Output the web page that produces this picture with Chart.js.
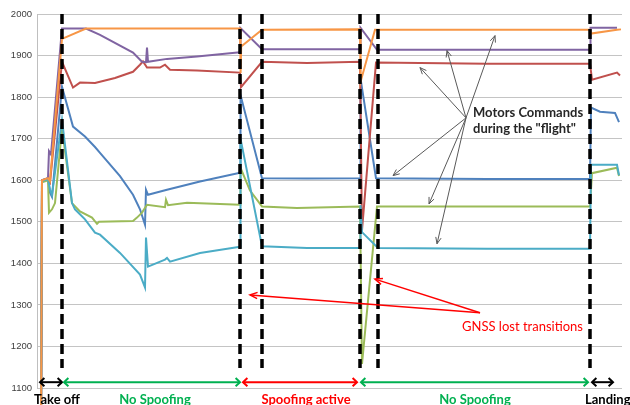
<!DOCTYPE html>
<html>
<head>
<meta charset="utf-8">
<script src="https://cdn.jsdelivr.net/npm/chart.js@4"></script>
<style>
  html, body { margin: 0; padding: 0; background: #ffffff; }
  #wrap { width: 630px; height: 405px; position: relative; }
</style>
</head>
<body>
<div id="wrap"><canvas id="c" width="630" height="405"></canvas></div>
<script>
// ---- Data (time in samples, motor command values) ----
const yTicks = [1100, 1200, 1300, 1400, 1500, 1600, 1700, 1800, 1900, 2000];

const motor1 = [[4,1000],[5,1600],[11,1605],[13,1570],[15,1560],[25,1825],[36,1729],[48,1705],[58,1680],[63,1666],[83,1610],[96,1565],[103,1530],[108,1493],[109,1577],[111,1565],[130,1577],[163,1597],[203,1618],[203.5,1805],[225,1605],[270,1604],[323,1605],[323.5,1845],[339,1605],[450,1603],[553,1603],[554,1775],[563,1765],[578,1762],[582,1740]];
const motor2 = [[4,1000],[5,1598],[11,1603],[13,1595],[25,1885],[36,1823],[43,1835],[58,1834],[78,1846],[96,1861],[103,1878],[106,1886],[110,1871],[123,1871],[128,1878],[133,1866],[160,1864],[203,1859],[204,1824],[225,1885],[270,1882],[323,1885],[325,1480],[339,1883],[450,1880],[553,1880],[555,1842],[580,1859],[583,1852]];
const motor3 = [[4,1000],[5,1595],[11,1600],[12,1522],[15,1530],[18,1545],[25,1725],[35,1545],[43,1525],[55,1510],[60,1495],[62,1500],[96,1502],[100,1510],[105,1522],[110,1541],[128,1535],[129,1553],[131,1540],[150,1546],[203,1541],[203.5,1630],[213,1575],[225,1537],[260,1533],[323,1537],[325,1158],[340,1537],[450,1537],[553,1537],[555,1617],[580,1630],[582,1610]];
const motor4 = [[4,1000],[5,1600],[11,1605],[12,1670],[14,1662],[25,1965],[49,1965],[63,1950],[96,1907],[105,1885],[109,1884],[110,1919],[111,1885],[130,1892],[160,1898],[203,1908],[203.5,1966],[225,1915],[270,1915],[323,1915],[323.5,1967],[340,1914],[450,1914],[553,1914],[553.5,1967],[580,1967]];
const motor5 = [[4,1000],[5,1598],[11,1603],[13,1577],[15,1565],[25,1745],[35,1545],[38,1530],[48,1506],[58,1474],[63,1469],[83,1425],[103,1373],[108,1342],[109,1462],[111,1392],[128,1409],[130,1413],[133,1404],[163,1425],[203,1440],[203.5,1700],[225,1441],[270,1437],[323,1437],[323.5,1540],[325,1475],[341,1437],[450,1435],[553,1435],[554,1637],[580,1637],[582,1612]];
const motor6 = [[4,1000],[5,1600],[11,1605],[13,1598],[25,1940],[49,1965],[203,1965],[203.6,1858],[204.2,1922],[225,1962],[323,1963],[323.6,1837],[338,1962],[553,1962],[554,1953],[580,1962],[584,1963]];

const seriesNames = ['Motor 1', 'Motor 2', 'Motor 3', 'Motor 4', 'Motor 5', 'Motor 6'];
const phaseBoundaries = [25, 203, 225, 323, 341, 553];
const phaseLabels = ['Take off', 'No Spoofing', 'Spoofing active', 'No Spoofing', 'Landing'];

// ---- Styling ----
const colors = ['#4F81BD', '#C0504D', '#9BBB59', '#8064A2', '#4BACC6', '#F79646'];
const allSeries = [motor1, motor2, motor3, motor4, motor5, motor6];

const datasets = allSeries.map((s, i) => ({
  label: seriesNames[i],
  data: s.map(p => ({ x: p[0], y: p[1] })),
  borderColor: colors[i],
  backgroundColor: colors[i],
  borderWidth: 2,
  pointRadius: 0,
  tension: 0,
  order: allSeries.length - i,
  clip: { left: 2, top: 2, right: 2, bottom: 20 }
}));

// annotation layout (in data coordinates)
const ann = {
  dashTop: 2000, dashBottom: 1148,
  arrowLevel: 1114,
  phaseArrows: [
    { from: 3, to: 25, color: '#000000' },
    { from: 27, to: 203, color: '#00B050' },
    { from: 206, to: 320, color: '#FF0000' },
    { from: 324, to: 551, color: '#00B050' },
    { from: 555, to: 576, color: '#000000' }
  ],
  phaseText: [
    { t: 20, color: '#000000', align: 'center' },
    { t: 118, color: '#00B050', align: 'center' },
    { t: 269, color: '#FF0000', align: 'center' },
    { t: 438, color: '#00B050', align: 'center' },
    { t: 548, color: '#000000', align: 'left' }
  ],
  grayOrigin: [429, 1750],
  grayTargets: [[383,1871],[410,1912],[458,1948],[356,1611],[392,1543],[400,1447]],
  redOrigin: [443, 1281],
  redTargets: [[213,1324],[338,1362]],
  motorsText: { t: 436, v1: 1753, v2: 1713 },
  gnssText: { t: 425, v: 1237 }
};

function openHead(ctx, x1, y1, x2, y2, len, spread) {
  const a = Math.atan2(y2 - y1, x2 - x1);
  ctx.beginPath();
  ctx.moveTo(x2 - len * Math.cos(a - spread), y2 - len * Math.sin(a - spread));
  ctx.lineTo(x2, y2);
  ctx.lineTo(x2 - len * Math.cos(a + spread), y2 - len * Math.sin(a + spread));
  ctx.stroke();
}
function arrowLine(ctx, x1, y1, x2, y2, len, spread, both) {
  ctx.beginPath();
  ctx.moveTo(x1, y1);
  ctx.lineTo(x2, y2);
  ctx.stroke();
  openHead(ctx, x1, y1, x2, y2, len, spread);
  if (both) openHead(ctx, x2, y2, x1, y1, len, spread);
}

const annotPlugin = {
  id: 'annot',
  afterDatasetsDraw(chart) {
    const ctx = chart.ctx;
    const xs = chart.scales.x, ys = chart.scales.y;
    const X = t => xs.getPixelForValue(t);
    const Y = v => ys.getPixelForValue(v);
    const area = chart.chartArea;
    ctx.save();
    ctx.lineCap = 'butt';
    ctx.lineJoin = 'miter';

    // phase boundaries (dashed)
    ctx.strokeStyle = '#000000';
    ctx.lineWidth = 3.5;
    ctx.setLineDash([10, 5]);
    phaseBoundaries.forEach(t => {
      ctx.beginPath();
      ctx.moveTo(X(t), Y(ann.dashTop));
      ctx.lineTo(X(t), Y(ann.dashBottom));
      ctx.stroke();
    });
    ctx.setLineDash([]);

    // phase arrows
    ctx.lineWidth = 2;
    ann.phaseArrows.forEach(a => {
      ctx.strokeStyle = a.color;
      arrowLine(ctx, X(a.from), Y(ann.arrowLevel), X(a.to), Y(ann.arrowLevel), 6, 0.75, true);
    });

    // phase labels
    ctx.font = 'bold 13px Lato, "Open Sans", sans-serif';
    ctx.textBaseline = 'alphabetic';
    ann.phaseText.forEach((p, i) => {
      ctx.fillStyle = p.color;
      ctx.textAlign = p.align;
      ctx.fillText(phaseLabels[i], X(p.t), area.bottom + 16);
    });

    // gray arrows
    ctx.strokeStyle = '#595959';
    ctx.lineWidth = 1;
    const go = ann.grayOrigin;
    ann.grayTargets.forEach(tg => {
      arrowLine(ctx, X(go[0]), Y(go[1]), X(tg[0]), Y(tg[1]), 7, 0.4, false);
    });

    // red arrows
    ctx.strokeStyle = '#FF0000';
    ctx.lineWidth = 1.5;
    const ro = ann.redOrigin;
    ann.redTargets.forEach(tg => {
      arrowLine(ctx, X(ro[0]), Y(ro[1]), X(tg[0]), Y(tg[1]), 8, 0.4, false);
    });

    // texts
    ctx.textAlign = 'left';
    ctx.fillStyle = '#262626';
    ctx.font = 'bold 13px Lato, "Open Sans", sans-serif';
    ctx.fillText('Motors Commands', X(ann.motorsText.t), Y(ann.motorsText.v1));
    ctx.fillText('during the "flight"', X(ann.motorsText.t), Y(ann.motorsText.v2));
    ctx.fillStyle = '#FF0000';
    ctx.font = '13px Lato, "Open Sans", sans-serif';
    ctx.fillText('GNSS lost transitions', X(ann.gnssText.t), Y(ann.gnssText.v));
    ctx.restore();
  }
};

new Chart(document.getElementById('c'), {
  type: 'line',
  data: { datasets },
  options: {
    responsive: false,
    animation: false,
    layout: { padding: { top: 14, right: 8, bottom: 17, left: 0 } },
    plugins: { legend: { display: false }, tooltip: { enabled: false } },
    scales: {
      x: { type: 'linear', min: 0, max: 585, display: false },
      y: {
        type: 'linear',
        min: yTicks[0],
        max: yTicks[yTicks.length - 1],
        afterBuildTicks: s => { s.ticks = yTicks.map(v => ({ value: v })); },
        afterFit: s => { s.width = 37; },
        ticks: { padding: 5, color: '#404040', font: { family: 'Liberation Sans', size: 9.5 }, callback: v => String(v) },
        grid: { color: '#c4c4c4', lineWidth: 1, drawTicks: false },
        border: { color: '#bfbfbf' }
      }
    }
  },
  plugins: [annotPlugin]
});
</script>
</body>
</html>
